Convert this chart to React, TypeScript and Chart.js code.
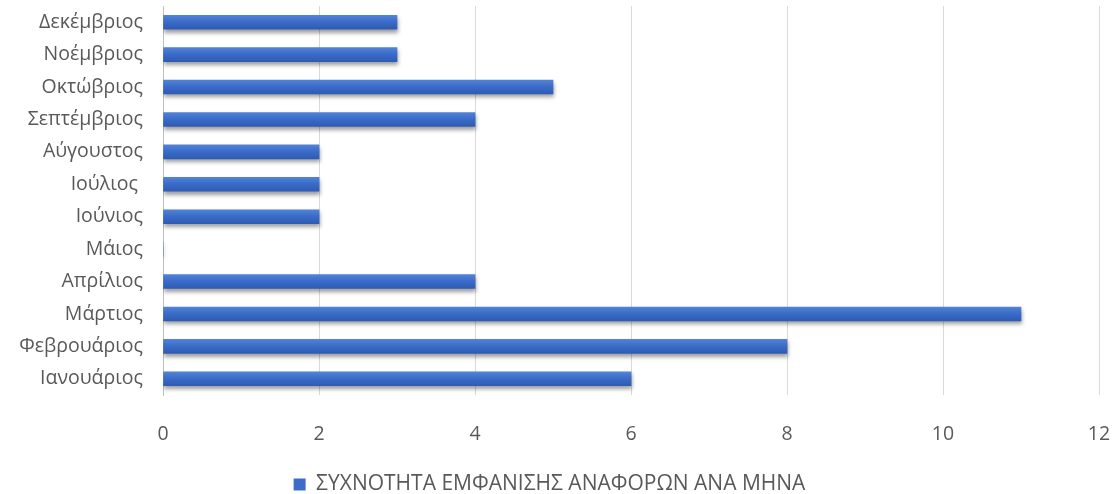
import React, { useEffect, useRef } from "react";
import { Chart, registerables } from "chart.js";

Chart.register(...registerables);

const months = [
  "Ιανουάριος",
  "Φεβρουάριος",
  "Μάρτιος",
  "Απρίλιος",
  "Μάιος",
  "Ιούνιος",
  "Ιούλιος ",
  "Αύγουστος",
  "Σεπτέμβριος",
  "Οκτώβριος",
  "Νοέμβριος",
  "Δεκέμβριος",
];
const counts = [6, 8, 11, 4, 0, 2, 2, 2, 4, 5, 3, 3];
const seriesLabel = "ΣΥΧΝΟΤΗΤΑ ΕΜΦΑΝΙΣΗΣ ΑΝΑΦΟΡΩΝ ΑΝΑ ΜΗΝΑ";
const xMax = 12;
const xStep = 2;

const FONT = "'Open Sans', 'Noto Sans', sans-serif";
const TEXT = "#595959";
const FS = 19.5;

const shadowPlugin = {
  id: "barShadow",
  beforeDatasetsDraw(chart: any) {
    const ctx = chart.ctx;
    ctx.save();
    ctx.shadowColor = "rgba(0,0,0,0.38)";
    ctx.shadowBlur = 4;
    ctx.shadowOffsetX = 1;
    ctx.shadowOffsetY = 3;
  },
  afterDatasetsDraw(chart: any) {
    chart.ctx.restore();
  },
};

export default function App() {
  const ref = useRef<HTMLCanvasElement>(null);
  useEffect(() => {
    document.body.style.margin = "0";
    const canvas = ref.current!;
    const chart = new Chart(canvas, {
      type: "bar",
      data: {
        labels: months,
        datasets: [
          {
            label: seriesLabel,
            data: counts,
            barThickness: 14,
            backgroundColor: (c: any) => {
              const ch = c.chart;
              const y = ch.scales?.y;
              if (!y || c.dataIndex === undefined) return "#3b6cc8";
              const py = y.getPixelForValue(c.dataIndex);
              const g = ch.ctx.createLinearGradient(0, py - 7, 0, py + 7);
              g.addColorStop(0, "#5283d8");
              g.addColorStop(0.45, "#3b6cc9");
              g.addColorStop(1, "#2e5bb3");
              return g;
            },
            borderWidth: 0,
          },
        ],
      },
      options: {
        indexAxis: "y",
        animation: false,
        responsive: true,
        maintainAspectRatio: false,
        layout: { padding: { top: 6, right: 20, left: 0, bottom: -11 } },
        scales: {
          x: {
            min: 0,
            max: xMax,
            ticks: {
              stepSize: xStep,
              color: TEXT,
              font: { family: FONT, size: FS },
              padding: 28,
            },
            grid: { color: "#d9d9d9", drawTicks: false, lineWidth: 1 },
            border: { display: false },
            afterFit: (s: any) => {
              s.height = 78;
              s.paddingRight = 0;
            },
          },
          y: {
            reverse: true,
            ticks: {
              color: TEXT,
              font: { family: FONT, size: FS },
              padding: 20,
            },
            grid: { display: false, drawTicks: false },
            border: { display: true, color: "#bfbfbf", width: 1 },
            afterFit: (s: any) => {
              s.width = 163;
              s.paddingTop = 0;
              s.paddingBottom = 0;
            },
          },
        },
        plugins: {
          legend: {
            position: "bottom",
            labels: {
              color: TEXT,
              font: { family: FONT, size: 21 },
              boxWidth: 12,
              boxHeight: 12,
              padding: 1,
              generateLabels: () => [
                {
                  text: seriesLabel,
                  fillStyle: "#3c6cc8",
                  strokeStyle: "#3c6cc8",
                  lineWidth: 0,
                  fontColor: TEXT,
                  datasetIndex: 0,
                  hidden: false,
                } as any,
              ],
            },
          },
          tooltip: { enabled: false },
        },
      },
      plugins: [shadowPlugin],
    } as any);
    return () => chart.destroy();
  }, []);
  return (
    <div style={{ position: "absolute", left: 0, top: 0, width: 1119, height: 494, background: "#fff" }}>
      <canvas ref={ref} />
    </div>
  );
}
